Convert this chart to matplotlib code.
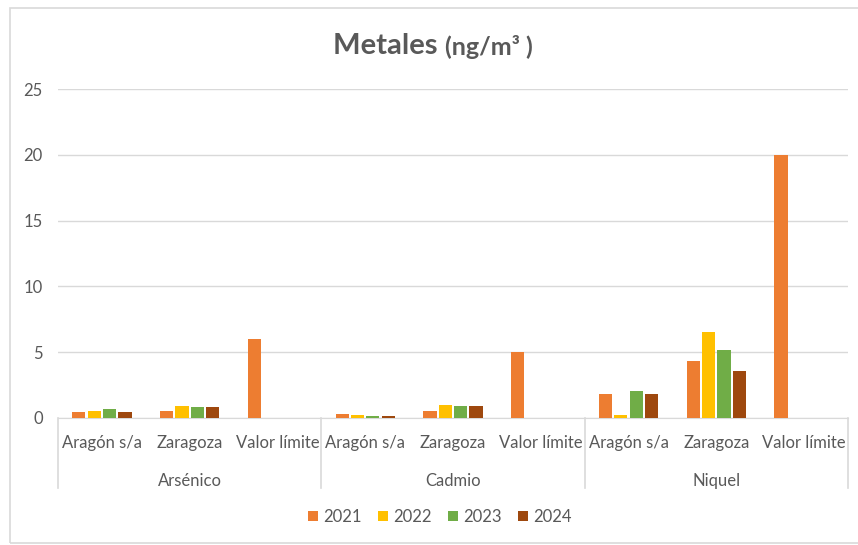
import matplotlib
matplotlib.use('Agg')
import matplotlib.pyplot as plt
import matplotlib.transforms as mtransforms
from matplotlib.patches import Rectangle
import numpy as np

# Data
metales = ['Arsénico', 'Cadmio', 'Niquel']
sitios = ['Aragón s/a', 'Zaragoza', 'Valor límite']
years = ['2021', '2022', '2023', '2024']
vals_2021 = [0.48, 0.55, 6, 0.28, 0.55, 5, 1.85, 4.3, 20]
vals_2022 = [0.55, 0.9, None, 0.22, 0.95, None, 0.22, 6.5, None]
vals_2023 = [0.65, 0.86, None, 0.14, 0.92, None, 2.05, 5.15, None]
vals_2024 = [0.48, 0.86, None, 0.13, 0.9, None, 1.85, 3.6, None]
y_ticks = [0, 5, 10, 15, 20, 25]

colors = ['#ED7D31', '#FFC000', '#70AD47', '#9E480E']
text_color = '#595959'
grid_color = '#D9D9D9'

plt.rcParams['font.family'] = ['Lato', 'DejaVu Sans']

fig = plt.figure(figsize=(8.58, 5.45), dpi=100)
ax = fig.add_axes([58 / 858, 1 - 418 / 545, 790 / 858, 329 / 545])

# outer chart frame
fig.patches.append(Rectangle((10 / 858, 2 / 545), 1.2, 535 / 545, transform=fig.transFigure,
                             fill=False, edgecolor=grid_color, linewidth=1.2))

x = np.arange(len(metales) * len(sitios))
width = 0.15
step = 0.175
all_vals = [vals_2021, vals_2022, vals_2023, vals_2024]
for i, (yr, vals) in enumerate(zip(years, all_vals)):
    xs = [xi + (i - 1.5) * step for xi, v in zip(x, vals) if v is not None]
    hs = [v for v in vals if v is not None]
    ax.bar(xs, hs, width=width, color=colors[i], label=yr, zorder=3)

ax.set_xlim(-0.5, len(x) - 0.5)
ax.set_ylim(0, 25)
ax.set_yticks(y_ticks)
ax.tick_params(axis='y', length=0, labelsize=12, labelcolor=text_color, pad=11)
ax.set_xticks([])
ax.grid(axis='y', color=grid_color, linewidth=1, zorder=0)
for side in ['top', 'right', 'left']:
    ax.spines[side].set_visible(False)
ax.spines['bottom'].set_color(grid_color)

# two-level category axis
trans = mtransforms.blended_transform_factory(ax.transData, ax.transAxes)
for k, xi in enumerate(x):
    ax.text(xi, -0.077, sitios[k % 3], transform=trans, ha='center', va='center',
            fontsize=12, color=text_color)
for g, name in enumerate(metales):
    ax.text(g * 3 + 1, -0.19, name, transform=trans, ha='center', va='center',
            fontsize=12, color=text_color)
for b in range(len(metales) + 1):
    ax.plot([b * 3 - 0.5, b * 3 - 0.5], [0, -0.213], transform=trans, color=grid_color,
            linewidth=1.2, clip_on=False)

# title
fig.text(445 / 858, 1 - 46 / 545, 'Metales ', ha='right', va='center', fontsize=21,
         fontweight='bold', color=text_color)
fig.text(445 / 858, 1 - 47 / 545, '(ng/m³ )', ha='left', va='center', fontsize=18,
         fontweight='bold', color=text_color)

ax.legend(loc='center', bbox_to_anchor=(440 / 858, 1 - 517 / 545), bbox_transform=fig.transFigure,
          ncol=4, frameon=False, fontsize=12, labelcolor=text_color, handlelength=0.6,
          handleheight=0.6, handletextpad=0.3, columnspacing=1.0)

fig.savefig('out.png', dpi=100)
